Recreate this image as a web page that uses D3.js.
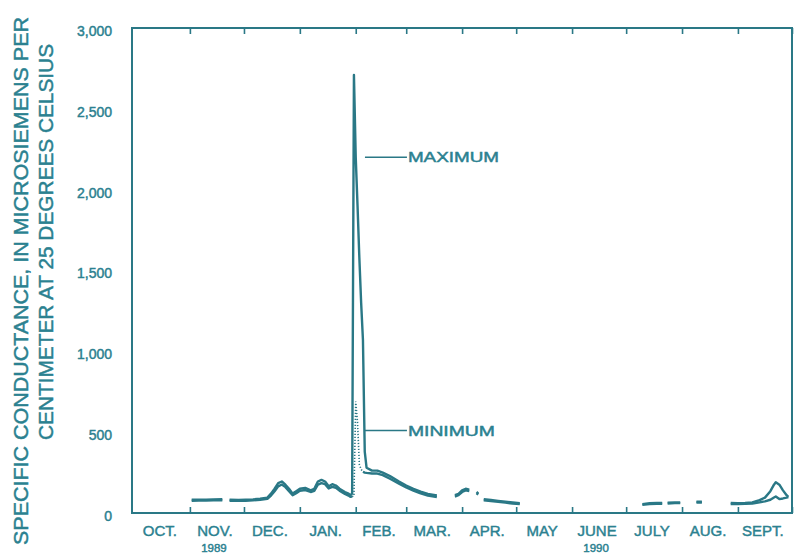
<!DOCTYPE html>
<html>
<head>
<meta charset="utf-8">
<script src="https://cdn.jsdelivr.net/npm/d3@7/dist/d3.min.js"></script>
<style>
  body { margin: 0; background: #fff; }
  text { font-family: "Liberation Sans", Arial, sans-serif; fill: #2b8190; stroke: #2b8190; stroke-width: 0.45px; }
</style>
</head>
<body>
<svg width="797" height="557"></svg>
<script>
var months = ['OCT.', 'NOV.', 'DEC.', 'JAN.', 'FEB.', 'MAR.', 'APR.', 'MAY', 'JUNE', 'JULY', 'AUG.', 'SEPT.'];
var yearLabels = [['1989', 1], ['1990', 8]];   // label, month index it sits under
var yTicks = [0, 500, 1000, 1500, 2000, 2500, 3000];
var titleLines = ['SPECIFIC CONDUCTANCE, IN MICROSIEMENS PER', 'CENTIMETER AT 25 DEGREES CELSIUS'];

// daily maximum specific conductance, null = no record
var maxReadings = [
  ['1989-11-02', 82], ['1989-11-06', 83], ['1989-11-10', 82], ['1989-11-14', 84], ['1989-11-19', 85],
  ['1989-11-21', null],
  ['1989-11-23', 82], ['1989-11-28', 80], ['1989-12-02', 82], ['1989-12-06', 84], ['1989-12-10', 88],
  ['1989-12-14', 95], ['1989-12-16', 120], ['1989-12-18', 150], ['1989-12-20', 185], ['1989-12-22', 195],
  ['1989-12-24', 175], ['1989-12-26', 150], ['1989-12-28', 120], ['1989-12-30', 135], ['1990-01-01', 150],
  ['1990-01-04', 155], ['1990-01-07', 140], ['1990-01-09', 150], ['1990-01-11', 195], ['1990-01-13', 205],
  ['1990-01-15', 195], ['1990-01-17', 165], ['1990-01-19', 178], ['1990-01-21', 170], ['1990-01-23', 150],
  ['1990-01-26', 130], ['1990-01-28', 120], ['1990-01-29', 110], ['1990-01-30', 120], ['1990-01-31', 2710],
  ['1990-02-01', 2200], ['1990-02-02', 1900], ['1990-02-03', 1580], ['1990-02-04', 1300], ['1990-02-05', 1070],
  ['1990-02-06', 380], ['1990-02-07', 280], ['1990-02-10', 262], ['1990-02-13', 262], ['1990-02-16', 250],
  ['1990-02-20', 228], ['1990-02-25', 195], ['1990-03-01', 170], ['1990-03-05', 150], ['1990-03-09', 132],
  ['1990-03-13', 118], ['1990-03-18', 108],
  ['1990-03-23', null],
  ['1990-03-28', 110], ['1990-03-30', 118], ['1990-04-01', 140], ['1990-04-03', 150], ['1990-04-05', 145],
  ['1990-04-07', null],
  ['1990-04-09', 130], ['1990-04-10', 120],
  ['1990-04-11', null],
  ['1990-04-13', 85], ['1990-04-17', 80], ['1990-04-21', 75], ['1990-04-25', 70], ['1990-04-29', 65], ['1990-05-03', 60],
  ['1990-06-01', null],
  ['1990-07-10', 55], ['1990-07-14', 60], ['1990-07-18', 62], ['1990-07-21', 62],
  ['1990-07-22', null],
  ['1990-07-24', 64], ['1990-07-28', 66], ['1990-07-31', 66],
  ['1990-08-03', null],
  ['1990-08-09', 70], ['1990-08-12', 70],
  ['1990-08-20', null],
  ['1990-08-28', 62], ['1990-09-01', 60], ['1990-09-05', 62], ['1990-09-09', 65], ['1990-09-13', 80],
  ['1990-09-16', 95], ['1990-09-19', 135], ['1990-09-21', 175], ['1990-09-22', 190], ['1990-09-24', 175],
  ['1990-09-26', 140], ['1990-09-28', 110], ['1990-09-29', 100]
];

// daily minimum specific conductance, null = no record
var minReadings = [
  ['1989-11-02', 76], ['1989-11-06', 77], ['1989-11-10', 77], ['1989-11-14', 78], ['1989-11-19', 79],
  ['1989-11-21', null],
  ['1989-11-23', 76], ['1989-11-28', 75], ['1989-12-02', 76], ['1989-12-06', 78], ['1989-12-10', 82],
  ['1989-12-14', 88], ['1989-12-16', 108], ['1989-12-18', 135], ['1989-12-20', 165], ['1989-12-22', 176],
  ['1989-12-24', 160], ['1989-12-26', 135], ['1989-12-28', 110], ['1989-12-30', 122], ['1990-01-01', 137],
  ['1990-01-04', 142], ['1990-01-07', 130], ['1990-01-09', 137], ['1990-01-11', 175], ['1990-01-13', 185],
  ['1990-01-15', 178], ['1990-01-17', 152], ['1990-01-19', 162], ['1990-01-21', 156], ['1990-01-23', 138],
  ['1990-01-26', 118], ['1990-01-28', 108], ['1990-01-29', 100], ['1990-01-30', 102], ['1990-01-31', 105],
  ['1990-02-01', 690], ['1990-02-02', 560], ['1990-02-03', 300], ['1990-02-04', 270], ['1990-02-05', 255],
  ['1990-02-06', 250], ['1990-02-07', 248], ['1990-02-10', 244], ['1990-02-13', 244], ['1990-02-16', 234],
  ['1990-02-20', 212], ['1990-02-25', 182], ['1990-03-01', 158], ['1990-03-05', 139], ['1990-03-09', 121],
  ['1990-03-13', 108], ['1990-03-18', 99],
  ['1990-03-23', null],
  ['1990-03-28', 102], ['1990-03-30', 110], ['1990-04-01', 130], ['1990-04-03', 140], ['1990-04-05', 136],
  ['1990-04-07', null],
  ['1990-04-09', 122], ['1990-04-10', 114],
  ['1990-04-11', null],
  ['1990-04-13', 79], ['1990-04-17', 74], ['1990-04-21', 69], ['1990-04-25', 64], ['1990-04-29', 59], ['1990-05-03', 55],
  ['1990-06-01', null],
  ['1990-07-10', 50], ['1990-07-14', 55], ['1990-07-18', 57], ['1990-07-21', 57],
  ['1990-07-22', null],
  ['1990-07-24', 59], ['1990-07-28', 61], ['1990-07-31', 61],
  ['1990-08-03', null],
  ['1990-08-09', 65], ['1990-08-12', 65],
  ['1990-08-20', null],
  ['1990-08-28', 56], ['1990-09-01', 55], ['1990-09-05', 57], ['1990-09-09', 59], ['1990-09-13', 66],
  ['1990-09-16', 72], ['1990-09-19', 82], ['1990-09-21', 96], ['1990-09-22', 102], ['1990-09-24', 86],
  ['1990-09-26', 90], ['1990-09-28', 95], ['1990-09-29', 98]
];

// the minimum is drawn dotted across the storm peak
var dottedWindow = ['1990-01-30', '1990-02-05'];

var ink = '#2a7886';
var svg = d3.select('svg');
var parse = d3.utcParse('%Y-%m-%d');

var x = d3.scaleUtc()
    .domain([Date.UTC(1989, 9, 1), Date.UTC(1990, 9, 1)])
    .range([134, 792]);
var y = d3.scaleLinear().domain([0, 3000]).range([513, 28]);

var monthStarts = d3.utcMonth.range(Date.UTC(1989, 9, 1), Date.UTC(1990, 9, 2));
var innerTicks = monthStarts.slice(1);

// frame
svg.append('rect')
    .attr('x', 132).attr('y', y(3000))
    .attr('width', 792 - 132).attr('height', y(0) - y(3000))
    .attr('fill', 'none').attr('stroke', ink).attr('stroke-width', 2);

// month ticks, pointing inward top and bottom
var bottomAxis = svg.append('g').attr('transform', 'translate(0,' + y(0) + ')')
    .call(d3.axisBottom(x).tickValues(innerTicks).tickSize(-6).tickFormat(''));
var topAxis = svg.append('g').attr('transform', 'translate(0,' + y(3000) + ')')
    .call(d3.axisTop(x).tickValues(innerTicks).tickSize(-6).tickFormat(''));
[bottomAxis, topAxis].forEach(function (a) {
    a.select('.domain').remove();
    a.selectAll('line').attr('stroke', ink).attr('stroke-width', 1.6);
});

// y labels
var leftAxis = svg.append('g').attr('transform', 'translate(112,3)')
    .call(d3.axisLeft(y).tickValues(yTicks).tickSize(0).tickPadding(0).tickFormat(d3.format(',')));
leftAxis.select('.domain').remove();
leftAxis.selectAll('text')
    .attr('font-size', 14).attr('fill', '#2b8190')
    .attr('font-family', '"Liberation Sans", Arial, sans-serif');

// month names centred in each month
svg.append('g').selectAll('text')
    .data(months)
    .join('text')
    .attr('x', function (d, i) {
        var s = monthStarts[i], e = d3.utcMonth.offset(s, 1);
        return (x(s) + x(e)) / 2 - 2;
    })
    .attr('y', 536)
    .attr('text-anchor', 'middle')
    .attr('font-size', 15)
    .text(function (d) { return d; });

svg.append('g').selectAll('text')
    .data(yearLabels)
    .join('text')
    .attr('x', function (d) {
        var s = monthStarts[d[1]], e = d3.utcMonth.offset(s, 1);
        return (x(s) + x(e)) / 2 - 3;
    })
    .attr('y', 552)
    .attr('text-anchor', 'middle')
    .attr('font-size', 11.5)
    .text(function (d) { return d[0]; });

// y title, two rotated lines
svg.append('text')
    .attr('transform', 'translate(28,281) rotate(-90)')
    .attr('text-anchor', 'middle')
    .attr('font-size', 20)
    .attr('textLength', 528).attr('lengthAdjust', 'spacingAndGlyphs')
    .text(titleLines[0]);
svg.append('text')
    .attr('transform', 'translate(53,242) rotate(-90)')
    .attr('text-anchor', 'middle')
    .attr('font-size', 20)
    .attr('textLength', 396).attr('lengthAdjust', 'spacingAndGlyphs')
    .text(titleLines[1]);

// series
function toPoints(rows) {
    return rows.map(function (r) { return { date: parse(r[0]), value: r[1] }; });
}
var maxPts = toPoints(maxReadings);
var minPts = toPoints(minReadings);
var w0 = parse(dottedWindow[0]), w1 = parse(dottedWindow[1]);

var line = d3.line()
    .x(function (d) { return x(d.date); })
    .y(function (d) { return y(d.value); });

svg.append('path')
    .attr('d', line.defined(function (d) {
        return d.value != null && (d.date <= w0 || d.date >= w1);
    })(minPts))
    .attr('fill', 'none').attr('stroke', ink).attr('stroke-width', 2.4)
    .attr('stroke-linejoin', 'round');

svg.append('path')
    .attr('d', line.defined(function (d) {
        return d.value != null && d.date >= w0 && d.date <= w1;
    })(minPts))
    .attr('fill', 'none').attr('stroke', ink).attr('stroke-width', 1.6)
    .attr('stroke-dasharray', '1.2,1.8');

svg.append('path')
    .attr('d', line.defined(function (d) { return d.value != null; })(maxPts))
    .attr('fill', 'none').attr('stroke', ink).attr('stroke-width', 2.4)
    .attr('stroke-linejoin', 'round');

// labels for the two curves
var notes = [
    { text: 'MAXIMUM', date: '1990-02-05', value: 2200, len: 91 },
    { text: 'MINIMUM', date: '1990-02-05', value: 510, len: 87 }
];
notes.forEach(function (n) {
    var x0 = x(parse(n.date)) + 2, yy = y(n.value);
    svg.append('line')
        .attr('x1', x0).attr('x2', x0 + 42)
        .attr('y1', yy).attr('y2', yy)
        .attr('stroke', ink).attr('stroke-width', 1.5);
    svg.append('text')
        .attr('x', x0 + 43).attr('y', yy + 5)
        .attr('font-size', 14)
        .attr('textLength', n.len).attr('lengthAdjust', 'spacingAndGlyphs')
        .text(n.text);
});
</script>
</body>
</html>
